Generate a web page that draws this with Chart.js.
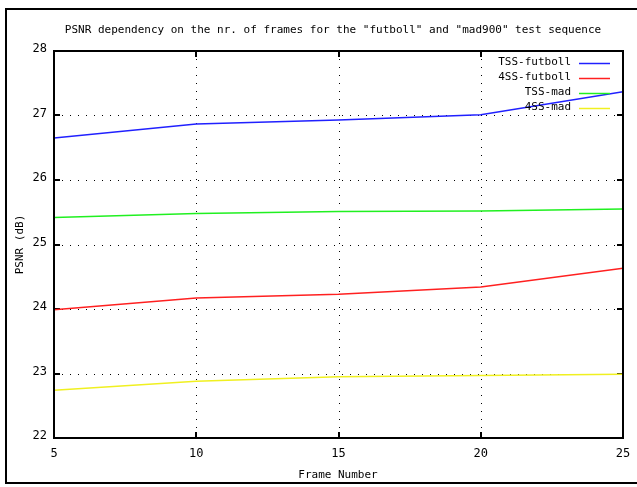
<!DOCTYPE html>
<html>
<head>
<meta charset="utf-8">
<script src="https://cdn.jsdelivr.net/npm/chart.js@4.4.1/dist/chart.umd.min.js"></script>
<style>
  html, body { margin: 0; padding: 0; background: #fff; }
  #wrap { position: absolute; left: 0; top: 0; width: 637px; height: 487px; }
</style>
</head>
<body>
<div id="wrap"><canvas id="psnrChart" width="637" height="487"></canvas></div>
<script>
// values
const frames = [5, 10, 15, 20, 25];
const tssFutboll = [26.65, 26.87, 26.93, 27.01, 27.37];
const fssFutboll = [23.99, 24.17, 24.23, 24.34, 24.63];
const tssMad = [25.42, 25.48, 25.51, 25.52, 25.55];
const fssMad = [22.74, 22.88, 22.95, 22.97, 22.99];
const xTicks = [5, 10, 15, 20, 25];
const yTicks = [22, 23, 24, 25, 26, 27, 28];

const FONT = '11px "DejaVu Sans Mono", "Liberation Mono", monospace';
const TICK_FONT = '12px "DejaVu Sans Mono", "Liberation Mono", monospace';

const toPoints = vals => vals.map((v, i) => ({ x: frames[i], y: v }));

// gnuplot-like frame, grid, ticks, labels and legend
const gnuplotLook = {
    id: 'gnuplotLook',
    beforeDatasetsDraw: function (chart) {
        const ctx = chart.ctx;
        const area = chart.chartArea;
        const xs = chart.scales.x;
        const ys = chart.scales.y;

        ctx.save();
        // dotted grid
        ctx.strokeStyle = '#000';
        ctx.lineWidth = 1;
        ctx.setLineDash([1, 7]);
        xTicks.slice(1, -1).forEach(t => {
            const px = Math.round(xs.getPixelForValue(t)) + 0.5;
            ctx.beginPath();
            ctx.moveTo(px, area.top);
            ctx.lineTo(px, area.bottom);
            ctx.stroke();
        });
        yTicks.slice(1, -1).forEach(t => {
            const py = Math.round(ys.getPixelForValue(t)) + 0.5;
            ctx.beginPath();
            ctx.moveTo(area.left, py);
            ctx.lineTo(area.right, py);
            ctx.stroke();
        });
        ctx.setLineDash([]);

        // inward tick marks on all four sides
        ctx.lineWidth = 2;
        xTicks.forEach(t => {
            const px = Math.round(xs.getPixelForValue(t));
            ctx.beginPath();
            ctx.moveTo(px, area.bottom);
            ctx.lineTo(px, area.bottom - 6);
            ctx.moveTo(px, area.top);
            ctx.lineTo(px, area.top + 6);
            ctx.stroke();
        });
        yTicks.forEach(t => {
            const py = Math.round(ys.getPixelForValue(t));
            ctx.beginPath();
            ctx.moveTo(area.left, py);
            ctx.lineTo(area.left + 6, py);
            ctx.moveTo(area.right, py);
            ctx.lineTo(area.right - 6, py);
            ctx.stroke();
        });

        // tick labels
        ctx.fillStyle = '#000';
        ctx.font = TICK_FONT;
        ctx.textAlign = 'center';
        ctx.textBaseline = 'middle';
        xTicks.forEach(t => {
            ctx.fillText(String(t), xs.getPixelForValue(t), area.bottom + 16);
        });
        ctx.textAlign = 'right';
        yTicks.forEach(t => {
            ctx.fillText(String(t), area.left - 7, ys.getPixelForValue(t) - 2);
        });

        // titles
        ctx.font = FONT;
        ctx.textAlign = 'center';
        ctx.fillText('PSNR dependency on the nr. of frames for the "futboll" and "mad900" test sequence', 333, 30);
        ctx.fillText('Frame Number', 338, 475);
        ctx.save();
        ctx.translate(20, (area.top + area.bottom) / 2);
        ctx.rotate(-Math.PI / 2);
        ctx.fillText('PSNR (dB)', 0, 0);
        ctx.restore();

        // outer picture frame
        ctx.lineWidth = 2;
        ctx.strokeRect(6, 9, 650, 474);
        ctx.restore();
    },
    afterDatasetsDraw: function (chart) {
        const ctx = chart.ctx;
        const area = chart.chartArea;
        ctx.save();
        // plot border
        ctx.strokeStyle = '#000';
        ctx.lineWidth = 2;
        ctx.strokeRect(area.left, area.top, area.right - area.left, area.bottom - area.top);

        // legend in the top right corner, text first then the sample line
        ctx.font = FONT;
        ctx.textAlign = 'right';
        ctx.textBaseline = 'middle';
        chart.data.datasets.forEach((ds, i) => {
            const y = 63 + i * 15;
            ctx.fillStyle = '#000';
            ctx.fillText(ds.label, 571, y - 1);
            ctx.strokeStyle = ds.borderColor;
            ctx.lineWidth = 1.5;
            ctx.beginPath();
            ctx.moveTo(579, y + 0.5);
            ctx.lineTo(610, y + 0.5);
            ctx.stroke();
        });
        ctx.restore();
    }
};

new Chart(document.getElementById('psnrChart').getContext('2d'), {
    type: 'line',
    data: {
        datasets: [
            { label: 'TSS-futboll', data: toPoints(tssFutboll), borderColor: '#2020ff' },
            { label: '4SS-futboll', data: toPoints(fssFutboll), borderColor: '#ff2020' },
            { label: 'TSS-mad', data: toPoints(tssMad), borderColor: '#20f020' },
            { label: '4SS-mad', data: toPoints(fssMad), borderColor: '#f0f020' }
        ].map(ds => Object.assign(ds, {
            borderWidth: 1.5,
            pointRadius: 0,
            tension: 0,
            fill: false
        }))
    },
    options: {
        responsive: false,
        animation: false,
        layout: { padding: { left: 54, right: 14, top: 51, bottom: 49 } },
        plugins: {
            legend: { display: false },
            title: { display: false },
            tooltip: { enabled: false }
        },
        scales: {
            x: {
                type: 'linear',
                min: 5,
                max: 25,
                display: false
            },
            y: {
                min: 22,
                max: 28,
                display: false
            }
        }
    },
    plugins: [gnuplotLook]
});
</script>
</body>
</html>
